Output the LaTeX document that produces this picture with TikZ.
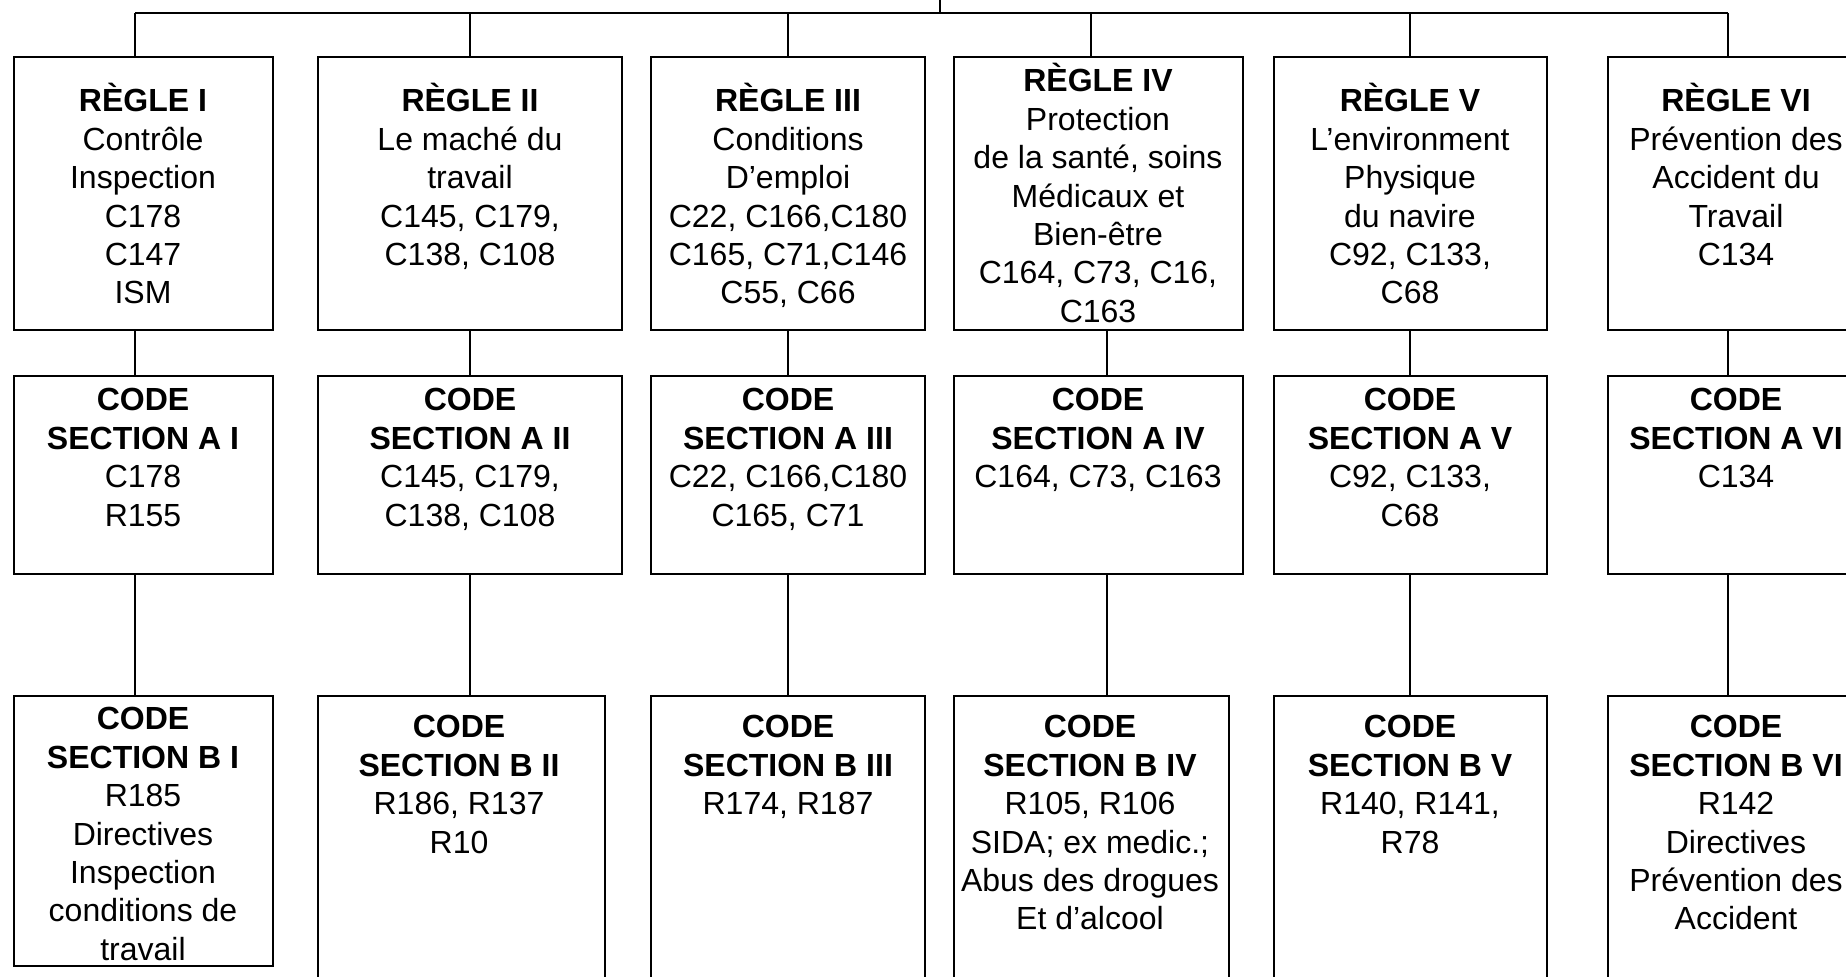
\documentclass[tikz,border=0pt]{standalone}
\usepackage{fontspec}
\setmainfont{Liberation Sans}
\newcommand{\mybox}[5]{\node[boxst, minimum width={(#4-#2)*0.5pt}, minimum height={(#5-#3)*0.5pt}] (#1) at ({(#2+#4)/2},{(#3+#5)/2}) {};}
\newcommand{\fl}{\rule{0pt}{16pt}}
\begin{document}
\begin{tikzpicture}[x=0.5pt,y=-0.5pt,
  boxst/.style={draw, line width=1.2pt, inner sep=0pt, rectangle},
  txt/.style={anchor=north, align=center, inner sep=0pt, font=\fontsize{16}{19.2}\selectfont},
  conn/.style={line width=1.1pt}]
\useasboundingbox (0,0) rectangle (1846,977);
\clip (0,0) rectangle (1846,977);
% row 1
\mybox{R1}{14}{57}{273}{330}
\mybox{R2}{318}{57}{622}{330}
\mybox{R3}{651}{57}{925}{330}
\mybox{R4}{954}{57}{1243}{330}
\mybox{R5}{1274}{57}{1547}{330}
\mybox{R6}{1608}{57}{1864}{330}
% row 2
\mybox{A1}{14}{376}{273}{574}
\mybox{A2}{318}{376}{622}{574}
\mybox{A3}{651}{376}{925}{574}
\mybox{A4}{954}{376}{1243}{574}
\mybox{A5}{1274}{376}{1547}{574}
\mybox{A6}{1608}{376}{1864}{574}
% row 3
\mybox{B1}{14}{696}{273}{966}
\mybox{B2}{318}{696}{605}{1000}
\mybox{B3}{651}{696}{925}{1000}
\mybox{B4}{954}{696}{1229}{1000}
\mybox{B5}{1274}{696}{1547}{1000}
\mybox{B6}{1608}{696}{1864}{1000}
% texts row 1
\node[txt] (tR1) at (143,79.5) {\fl\textbf{RÈGLE I}\\Contrôle\\Inspection\\C178\\C147\\ISM};
\node[txt] (tR2) at (470,79.5) {\fl\textbf{RÈGLE II}\\Le maché du\\travail\\C145, C179,\\C138, C108};
\node[txt] (tR3) at (788,79.5) {\fl\textbf{RÈGLE III}\\Conditions\\D’emploi\\C22, C166,C180\\C165, C71,C146\\C55, C66};
\node[txt] (tR4) at (1098,59.5) {\fl\textbf{RÈGLE IV}\\Protection\\de la santé, soins\\Médicaux et\\Bien-être\\C164, C73, C16,\\C163};
\node[txt] (tR5) at (1410,79.5) {\fl\textbf{RÈGLE V}\\L’environment\\Physique\\du navire\\C92, C133,\\C68};
\node[txt] (tR6) at (1736,79.5) {\fl\textbf{RÈGLE VI}\\Prévention des\\Accident du\\Travail\\C134};
% texts row 2
\node[txt] (tA1) at (143,378.5) {\fl\textbf{CODE}\\\textbf{SECTION A I}\\C178\\R155};
\node[txt] (tA2) at (470,378.5) {\fl\textbf{CODE}\\\textbf{SECTION A II}\\C145, C179,\\C138, C108};
\node[txt] (tA3) at (788,378.5) {\fl\textbf{CODE}\\\textbf{SECTION A III}\\C22, C166,C180\\C165, C71};
\node[txt] (tA4) at (1098,378.5) {\fl\textbf{CODE}\\\textbf{SECTION A IV}\\C164, C73, C163};
\node[txt] (tA5) at (1410,378.5) {\fl\textbf{CODE}\\\textbf{SECTION A V}\\C92, C133,\\C68};
\node[txt] (tA6) at (1736,378.5) {\fl\textbf{CODE}\\\textbf{SECTION A VI}\\C134};
% texts row 3
\node[txt] (tB1) at (143,697.5) {\fl\textbf{CODE}\\\textbf{SECTION B I}\\R185\\Directives\\Inspection\\conditions de\\travail};
\node[txt] (tB2) at (459,705.5) {\fl\textbf{CODE}\\\textbf{SECTION B II}\\R186, R137\\R10};
\node[txt] (tB3) at (788,705.5) {\fl\textbf{CODE}\\\textbf{SECTION B III}\\R174, R187};
\node[txt] (tB4) at (1090,705.5) {\fl\textbf{CODE}\\\textbf{SECTION B IV}\\R105, R106\\SIDA; ex medic.;\\Abus des drogues\\Et d’alcool};
\node[txt] (tB5) at (1410,705.5) {\fl\textbf{CODE}\\\textbf{SECTION B V}\\R140, R141,\\R78};
\node[txt] (tB6) at (1736,705.5) {\fl\textbf{CODE}\\\textbf{SECTION B VI}\\R142\\Directives\\Prévention des\\Accident};
% connectors
\coordinate (root) at (940,-10);
\coordinate (bus) at (940,13);
\coordinate (c1) at (135,13);
\coordinate (c2) at (470,13);
\coordinate (c3) at (788,13);
\coordinate (c4) at (1091,13);
\coordinate (c5) at (1410,13);
\coordinate (c6) at (1728,13);
\coordinate (d4) at (1107,13);
\draw[conn] (root) -- (bus);
\draw[conn] (c1) -- (c6);
\foreach \i in {1,2,3,4,5,6}{
  \draw[conn] (c\i) -- (c\i |- R\i.north);
}
\foreach \i in {1,2,3,5,6}{
  \draw[conn] (R\i.south -| c\i) -- (A\i.north -| c\i);
  \draw[conn] (A\i.south -| c\i) -- (B\i.north -| c\i);
}
\draw[conn] (R4.south -| d4) -- (A4.north -| d4);
\draw[conn] (A4.south -| d4) -- (B4.north -| d4);
\end{tikzpicture}
\end{document}
